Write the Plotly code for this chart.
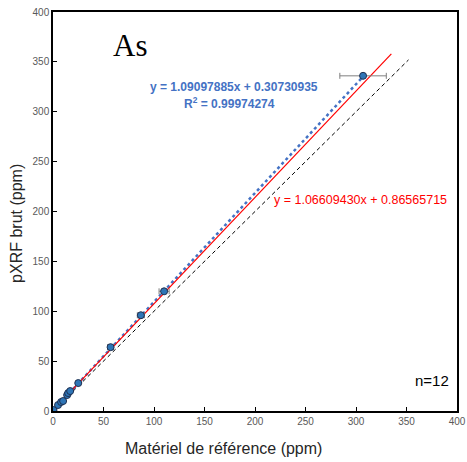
import plotly.graph_objects as go

ref_x = [0.5, 5, 8, 10, 14, 15, 17, 25, 57, 87, 110, 307]
pxrf_y = [1, 6, 9, 10, 16, 18, 20, 28, 64, 96, 120, 336]
x_err = [0.5, 0.5, 0.5, 0.5, 0.8, 0.8, 0.8, 1.0, 3.0, 3.5, 5.0, 23.0]

slope_red, icpt_red = 1.06609430, 0.86565715
slope_blue, icpt_blue = 1.09097885, 0.30730935
red_xmax = 335
blue_xmax = 307
one_xmax = 352

fig = go.Figure()

fig.add_trace(go.Scatter(x=[0, one_xmax], y=[0, one_xmax], mode="lines",
                         line=dict(color="black", width=1, dash="4px,3px"), showlegend=False))
fig.add_trace(go.Scatter(x=[0, blue_xmax], y=[icpt_blue, slope_blue * blue_xmax + icpt_blue], mode="lines",
                         line=dict(color="#4472C4", width=2.5, dash="dot"), showlegend=False))
fig.add_trace(go.Scatter(x=[0, red_xmax], y=[icpt_red, slope_red * red_xmax + icpt_red], mode="lines",
                         line=dict(color="#FF0000", width=1.2), showlegend=False))
fig.add_trace(go.Scatter(x=ref_x, y=pxrf_y, mode="markers",
                         error_x=dict(type="data", array=x_err, color="#7F7F7F", thickness=1, width=3),
                         marker=dict(color="#2E75B6", size=7, line=dict(color="#1F2F4F", width=1)),
                         showlegend=False))

fig.add_annotation(x=0.19, y=0.917, xref="paper", yref="paper", text="As", showarrow=False,
                   font=dict(family="Liberation Serif", size=31, color="black"),
                   xanchor="center", yanchor="middle")
fig.add_annotation(x=179, y=325, xref="x", yref="y",
                   text="<b>y = 1.09097885x + 0.30730935</b>", showarrow=False,
                   font=dict(family="Liberation Sans", size=12, color="#4472C4"))
fig.add_annotation(x=175, y=309, xref="x", yref="y",
                   text="<b>R<sup>2</sup> = 0.99974274</b>", showarrow=False,
                   font=dict(family="Liberation Sans", size=12, color="#4472C4"))
fig.add_annotation(x=304, y=212, xref="x", yref="y",
                   text="y = 1.06609430x + 0.86565715", showarrow=False,
                   font=dict(family="Liberation Sans", size=12.5, color="#FF0000"))
fig.add_annotation(x=375, y=31, xref="x", yref="y", text="n=12", showarrow=False,
                   font=dict(family="Liberation Sans", size=15, color="black"))

# axis titles
fig.add_annotation(x=0.423, y=-0.093, xref="paper", yref="paper",
                   text="Matériel de référence (ppm)", showarrow=False,
                   xanchor="center", yanchor="middle",
                   font=dict(family="Liberation Sans", size=16, color="#262626"))
fig.add_annotation(x=-0.092, y=0.471, xref="paper", yref="paper",
                   text="pXRF brut (ppm)", showarrow=False, textangle=-90,
                   xanchor="center", yanchor="middle",
                   font=dict(family="Liberation Sans", size=16, color="#262626"))

axis_common = dict(range=[0, 400], dtick=50, showgrid=False, zeroline=False,
                   showline=True, linecolor="black", linewidth=1.5, mirror=True,
                   ticks="inside", ticklen=4, tickcolor="black", automargin=False,
                   tickfont=dict(family="Liberation Sans", size=10, color="#595959"))

fig.update_layout(
    width=467, height=462,
    margin=dict(l=53, r=10, t=12, b=51),
    paper_bgcolor="white", plot_bgcolor="white",
    xaxis=dict(**axis_common),
    yaxis=dict(**axis_common),
)

fig.write_html("out.html")
